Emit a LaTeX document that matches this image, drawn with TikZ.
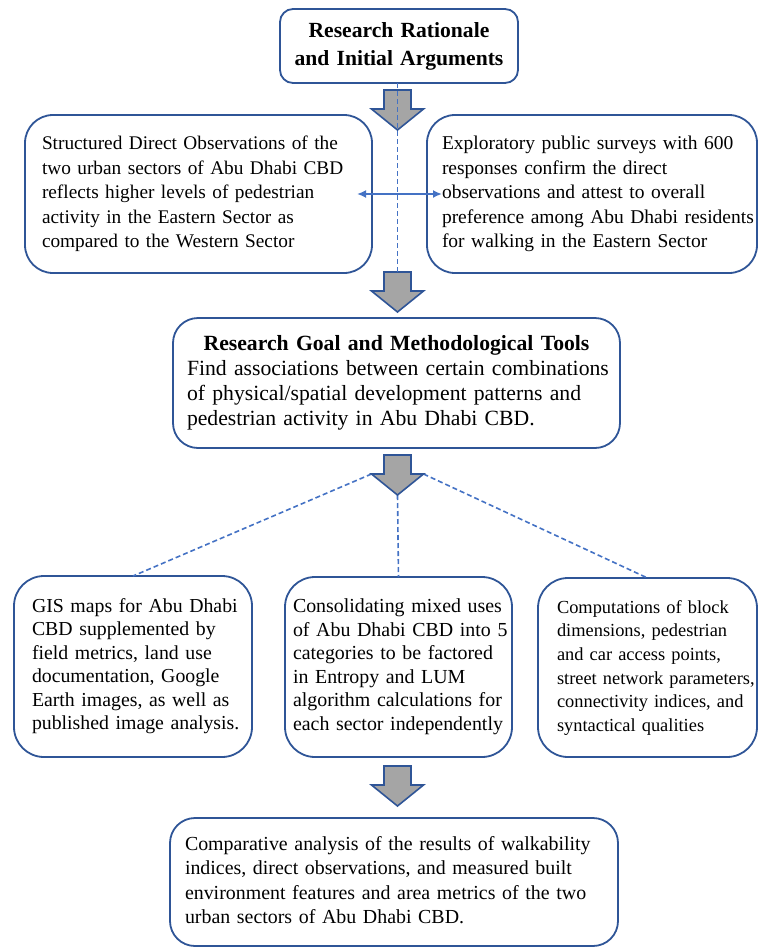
\documentclass[tikz,border=0pt]{standalone}
\usepackage{fontspec}
\setmainfont{Liberation Serif}
\usetikzlibrary{arrows.meta,calc}
\definecolor{boxblue}{HTML}{2F5597}
\definecolor{lineblue}{HTML}{4472C4}
\definecolor{arrgray}{HTML}{A5A5A5}
\newcommand\fsz[2]{\fontsize{#1pt}{#2pt}\selectfont}
\newcommand\textlines[1]{\noindent\begin{tabular}{@{}l@{}}#1\end{tabular}}
\begin{document}
\begin{tikzpicture}[x=1pt,y=1pt,
  box/.style={draw=boxblue, line width=1.8pt, fill=white, align=left, inner ysep=0pt, outer sep=0pt},
  dashconn/.style={draw=lineblue, line width=1.6pt, dash pattern=on 5pt off 3pt},
  blockarr/.style={draw=boxblue, line width=1.6pt, fill=arrgray, line join=miter},
  pics/downarrow/.style={code={\draw[blockarr] (-13.5,0) -- (13.5,0) -- (13.5,-19) -- (26,-19) -- (0,-40) -- (-26,-19) -- (-13.5,-19) -- cycle;}}
]
\useasboundingbox (0,0) rectangle (758,-948);

% boxes
\node[box, rounded corners=13pt, minimum width=238pt, minimum height=74pt, text width=226pt, inner xsep=6pt, align=center, font=\fsz{21.6}{28}\bfseries] (top) at (399,-46) {Research Rationale\\and Initial Arguments};

\node[box, rounded corners=28pt, minimum width=347pt, minimum height=158pt, text width=313pt, inner xsep=17pt, font=\fsz{19.3}{24.5}] (obs) at (198.5,-194) {\textlines{Structured Direct Observations of the\\two urban sectors of Abu Dhabi CBD\\reflects higher levels of pedestrian\\activity in the Eastern Sector as\\compared to the Western Sector}};

\node[box, rounded corners=28pt, minimum width=330pt, minimum height=158pt, text width=300pt, inner xsep=15pt, font=\fsz{19.5}{24.5}] (surv) at (592,-194) {\textlines{Exploratory public surveys with 600\\responses confirm the direct\\observations and attest to overall\\preference among Abu Dhabi residents\\for walking in the Eastern Sector}};

\node[box, rounded corners=25pt, minimum width=447pt, minimum height=130pt, text width=419pt, inner xsep=14pt, font=\fsz{21.7}{25}] (goal) at (396.5,-383) {\textlines{\makebox[419pt][c]{\bfseries Research Goal and Methodological Tools}\\Find associations between certain combinations\\of physical/spatial development patterns and\\pedestrian activity in Abu Dhabi CBD.}};

\node[box, rounded corners=30pt, minimum width=238pt, minimum height=181pt, text width=202pt, inner xsep=18pt, font=\fsz{19.8}{23.5}] (bl) at (133,-666.5) {\textlines{GIS maps for Abu Dhabi\\CBD supplemented by\\field metrics, land use\\documentation, Google\\Earth images, as well as\\published image analysis.}};

\node[box, rounded corners=30pt, minimum width=227pt, minimum height=180pt, text width=211pt, inner xsep=8pt, font=\fsz{19.9}{23.5}] (bm) at (398.5,-667) {\textlines{Consolidating mixed uses\\of Abu Dhabi CBD into 5\\categories to be factored\\in Entropy and LUM\\algorithm calculations for\\each sector independently}};

\node[box, rounded corners=30pt, minimum width=219pt, minimum height=179pt, text width=181pt, inner xsep=19pt, font=\fsz{18.4}{23.7}] (br) at (647.5,-667.5) {\textlines{Computations of block\\dimensions, pedestrian\\and car access points,\\street network parameters,\\connectivity indices, and\\syntactical qualities}};

\node[box, rounded corners=25pt, minimum width=448pt, minimum height=128pt, text width=418pt, inner xsep=15pt, font=\fsz{19.9}{24.3}] (final) at (394,-882) {\textlines{Comparative analysis of the results of walkability\\indices, direct observations, and measured built\\environment features and area metrics of the two\\urban sectors of Abu Dhabi CBD.}};

% arrow anchor coordinates
\coordinate (a1) at (397.5,-90);
\coordinate (a2) at (397.5,-272);
\coordinate (a3) at (397.5,-455);
\coordinate (a4) at (397.5,-766);
\coordinate (a3l) at ($(a3)+(-26,-19)$);
\coordinate (a3r) at ($(a3)+(26,-19)$);
\coordinate (a3t) at ($(a3)+(0,-40)$);

% dashed connectors from arrow 3
\draw[dashconn] (a3l) -- (bl.north);
\draw[dashconn] (a3t) -- (bm.north);
\draw[dashconn] (a3r) -- (br.north);

% block arrows
\pic (arrow1) at (a1) {downarrow};
\pic (arrow2) at (a2) {downarrow};
\pic (arrow3) at (a3) {downarrow};
\pic (arrow4) at (a4) {downarrow};

% dashed vertical line
\draw[dashconn] (top.south -| a2) -- (a2);

% double arrow
\draw[lineblue, line width=1.8pt, {Latex[length=9pt,width=8pt]}-{Latex[length=9pt,width=8pt]}, shorten <=-15pt, shorten >=-15pt] (obs.east) -- (surv.west);
\end{tikzpicture}
\end{document}
